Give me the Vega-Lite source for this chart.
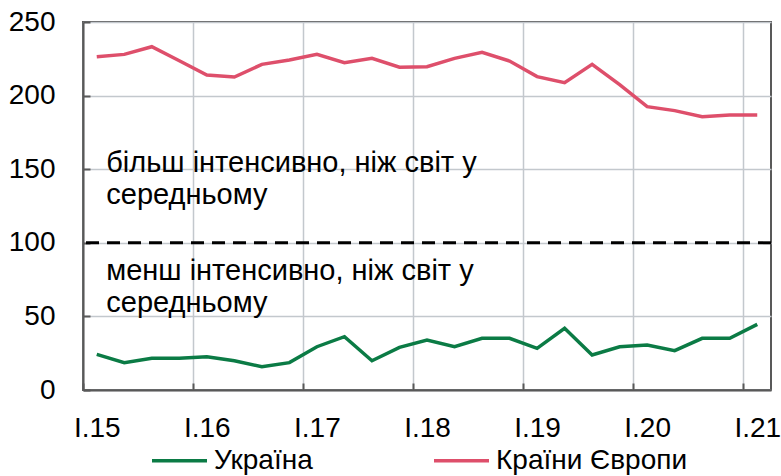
{
  "$schema": "https://vega.github.io/schema/vega-lite/v6.json",
  "width": 688,
  "height": 368,
  "autosize": {"type": "none"},
  "padding": {"left": 83, "top": 22, "right": 10, "bottom": 86},
  "config": {
    "font": "Liberation Sans",
    "view": {"stroke": "#595959", "strokeWidth": 2},
    "axis": {
      "labelFont": "Liberation Sans",
      "labelFontSize": 28,
      "labelColor": "#000000",
      "domainColor": "#595959",
      "domainWidth": 2,
      "tickColor": "#595959",
      "tickWidth": 2,
      "gridColor": "#C3C8CD",
      "gridWidth": 1.5
    }
  },
  "datasets": {
    "series": [
      {"t": 0, "quarter": "I.15", "series": "Україна", "value": 24.2},
      {"t": 1, "quarter": "II.15", "series": "Україна", "value": 18.6},
      {"t": 2, "quarter": "III.15", "series": "Україна", "value": 21.5},
      {"t": 3, "quarter": "IV.15", "series": "Україна", "value": 21.5},
      {"t": 4, "quarter": "I.16", "series": "Україна", "value": 22.6},
      {"t": 5, "quarter": "II.16", "series": "Україна", "value": 19.9},
      {"t": 6, "quarter": "III.16", "series": "Україна", "value": 15.8},
      {"t": 7, "quarter": "IV.16", "series": "Україна", "value": 18.6},
      {"t": 8, "quarter": "I.17", "series": "Україна", "value": 29.4},
      {"t": 9, "quarter": "II.17", "series": "Україна", "value": 36.2},
      {"t": 10, "quarter": "III.17", "series": "Україна", "value": 19.9},
      {"t": 11, "quarter": "IV.17", "series": "Україна", "value": 29.0},
      {"t": 12, "quarter": "I.18", "series": "Україна", "value": 34.0},
      {"t": 13, "quarter": "II.18", "series": "Україна", "value": 29.4},
      {"t": 14, "quarter": "III.18", "series": "Україна", "value": 35.1},
      {"t": 15, "quarter": "IV.18", "series": "Україна", "value": 35.1},
      {"t": 16, "quarter": "I.19", "series": "Україна", "value": 28.3},
      {"t": 17, "quarter": "II.19", "series": "Україна", "value": 41.9},
      {"t": 18, "quarter": "III.19", "series": "Україна", "value": 23.8},
      {"t": 19, "quarter": "IV.19", "series": "Україна", "value": 29.4},
      {"t": 20, "quarter": "I.20", "series": "Україна", "value": 30.6},
      {"t": 21, "quarter": "II.20", "series": "Україна", "value": 26.7},
      {"t": 22, "quarter": "III.20", "series": "Україна", "value": 35.1},
      {"t": 23, "quarter": "IV.20", "series": "Україна", "value": 35.1},
      {"t": 24, "quarter": "I.21", "series": "Україна", "value": 44.6},
      {"t": 0, "quarter": "I.15", "series": "Країни Європи", "value": 226.4},
      {"t": 1, "quarter": "II.15", "series": "Країни Європи", "value": 228.0},
      {"t": 2, "quarter": "III.15", "series": "Країни Європи", "value": 233.2},
      {"t": 3, "quarter": "IV.15", "series": "Країни Європи", "value": 223.7},
      {"t": 4, "quarter": "I.16", "series": "Країни Європи", "value": 214.0},
      {"t": 5, "quarter": "II.16", "series": "Країни Європи", "value": 212.6},
      {"t": 6, "quarter": "III.16", "series": "Країни Європи", "value": 221.2},
      {"t": 7, "quarter": "IV.16", "series": "Країни Європи", "value": 224.2},
      {"t": 8, "quarter": "I.17", "series": "Країни Європи", "value": 228.0},
      {"t": 9, "quarter": "II.17", "series": "Країни Європи", "value": 222.4},
      {"t": 10, "quarter": "III.17", "series": "Країни Європи", "value": 225.3},
      {"t": 11, "quarter": "IV.17", "series": "Країни Європи", "value": 219.3},
      {"t": 12, "quarter": "I.18", "series": "Країни Європи", "value": 219.6},
      {"t": 13, "quarter": "II.18", "series": "Країни Європи", "value": 225.3},
      {"t": 14, "quarter": "III.18", "series": "Країни Європи", "value": 229.4},
      {"t": 15, "quarter": "IV.18", "series": "Країни Європи", "value": 223.5},
      {"t": 16, "quarter": "I.19", "series": "Країни Європи", "value": 212.9},
      {"t": 17, "quarter": "II.19", "series": "Країни Європи", "value": 208.8},
      {"t": 18, "quarter": "III.19", "series": "Країни Європи", "value": 221.2},
      {"t": 19, "quarter": "IV.19", "series": "Країни Європи", "value": 207.5},
      {"t": 20, "quarter": "I.20", "series": "Країни Європи", "value": 192.5},
      {"t": 21, "quarter": "II.20", "series": "Країни Європи", "value": 189.8},
      {"t": 22, "quarter": "III.20", "series": "Країни Європи", "value": 185.7},
      {"t": 23, "quarter": "IV.20", "series": "Країни Європи", "value": 186.8},
      {"t": 24, "quarter": "I.21", "series": "Країни Європи", "value": 186.8}
    ],
    "notes": [
      {"t": 0, "value": 148, "label": "більш інтенсивно, ніж світ у\nсередньому"},
      {"t": 0, "value": 74.7, "label": "менш інтенсивно, ніж світ у\nсередньому"}
    ],
    "reference": [
      {"level": 100}
    ]
  },
  "layer": [
    {
      "data": {"name": "series"},
      "mark": {"type": "line", "strokeWidth": 3.5},
      "encoding": {
        "x": {
          "field": "t",
          "type": "quantitative",
          "scale": {"domain": [-0.5, 24.5], "nice": false, "zero": false},
          "axis": {
            "values": [-0.5, 3.5, 7.5, 11.5, 15.5, 19.5, 23.5],
            "labelExpr": "'I.' + format(15 + (datum.value + 0.5) / 4, 'd')",
            "labelOffset": 13.75,
            "labelFlush": false,
            "labelOverlap": false,
            "labelBound": false,
            "grid": true,
            "title": null,
            "tickSize": -7,
            "labelPadding": 31
          }
        },
        "y": {
          "field": "value",
          "type": "quantitative",
          "scale": {"domain": [0, 250], "nice": false},
          "axis": {
            "values": [0, 50, 100, 150, 200, 250],
            "title": null,
            "tickSize": -7,
            "labelPadding": 35
          }
        },
        "color": {
          "field": "series",
          "type": "nominal",
          "scale": {"domain": ["Україна", "Країни Європи"], "range": ["#0B7B45", "#DE4F6B"]},
          "legend": {
            "title": null,
            "orient": "none",
            "legendX": 67,
            "legendY": 409,
            "direction": "horizontal",
            "columns": 2,
            "symbolType": "stroke",
            "symbolSize": 3025,
            "symbolStrokeWidth": 3.5,
            "labelFontSize": 28,
            "labelFont": "Liberation Sans",
            "labelColor": "#000000",
            "labelLimit": 400,
            "labelOffset": 5,
            "columnPadding": 114
          }
        }
      }
    },
    {
      "data": {"name": "reference"},
      "mark": {"type": "rule", "strokeDash": [13, 8], "strokeWidth": 3, "color": "#000000"},
      "encoding": {"y": {"field": "level", "type": "quantitative"}}
    },
    {
      "data": {"name": "notes"},
      "mark": {
        "type": "text",
        "align": "left",
        "baseline": "alphabetic",
        "dx": 9.5,
        "fontSize": 29,
        "font": "Liberation Sans",
        "lineBreak": "\n",
        "lineHeight": 32,
        "color": "#000000"
      },
      "encoding": {
        "x": {"field": "t", "type": "quantitative"},
        "y": {"field": "value", "type": "quantitative"},
        "text": {"field": "label"}
      }
    }
  ]
}
